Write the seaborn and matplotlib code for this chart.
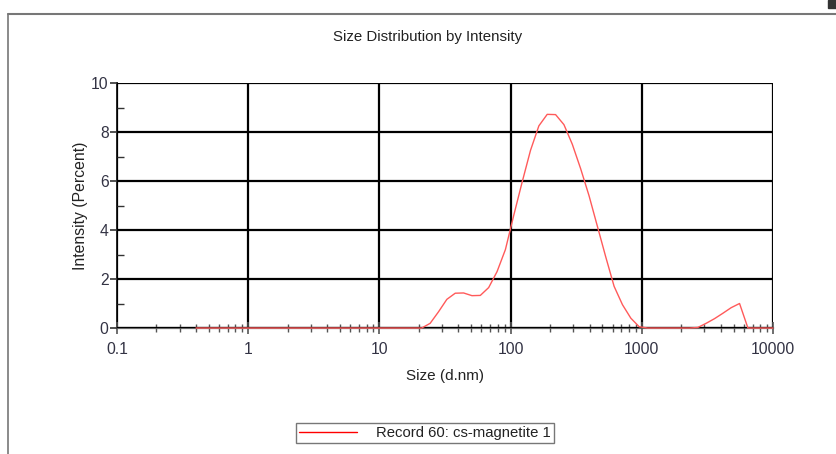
import numpy as np
import pandas as pd
import matplotlib
matplotlib.use("Agg")
import matplotlib.pyplot as plt
import seaborn as sns
from matplotlib.lines import Line2D
from matplotlib.patches import Rectangle
from matplotlib.ticker import LogLocator, FixedLocator, NullFormatter

# Size bins (d.nm)
sizes = [0.4, 0.4632, 0.5365, 0.6213, 0.7195, 0.8332, 0.9649, 1.117, 1.294, 1.499,
         1.736, 2.01, 2.328, 2.696, 3.122, 3.615, 4.187, 4.849, 5.615, 6.503,
         7.531, 8.721, 10.1, 11.7, 13.54, 15.69, 18.17, 21.04, 24.36, 28.21,
         32.67, 37.84, 43.82, 50.75, 58.77, 68.06, 78.82, 91.28, 105.7, 122.4,
         141.8, 164.2, 190.1, 220.2, 255.0, 295.3, 342.0, 396.1, 458.7, 531.2,
         615.1, 712.4, 825.0, 955.4, 1106, 1281, 1484, 1718, 1990, 2305,
         2669, 3091, 3580, 4145, 4801, 5560, 6439, 7456, 8635, 10000]
# Intensity (%)
intensity = [0, 0, 0, 0, 0, 0, 0, 0, 0, 0,
             0, 0, 0, 0, 0, 0, 0, 0, 0, 0,
             0, 0, 0, 0, 0, 0, 0, 0, 0.19, 0.66,
             1.17, 1.42, 1.43, 1.32, 1.33, 1.65, 2.3, 3.2, 4.6, 5.95,
             7.25, 8.25, 8.72, 8.71, 8.3, 7.5, 6.5, 5.4, 4.15, 2.9,
             1.7, 0.95, 0.4, 0.05, 0, 0, 0, 0, 0, 0,
             0.02, 0.19, 0.38, 0.6, 0.83, 1.0, 0, 0, 0, 0]

title = "Size Distribution by Intensity"
xlabel = "Size (d.nm)"
ylabel = "Intensity (Percent)"
series_name = "Record 60: cs-magnetite 1"
xticks = [0.1, 1, 10, 100, 1000, 10000]
xticklabels = ["0.1", "1", "10", "100", "1000", "10000"]
yticks = [0, 2, 4, 6, 8, 10]

sns.set_theme(style="white")
plt.rcParams['font.family'] = ['Liberation Sans', 'DejaVu Sans']

fig = plt.figure(figsize=(8.36, 4.54), dpi=100)
ax = fig.add_axes([117/836, 1 - 328/454, (773 - 117)/836, (328 - 83)/454])

df = pd.DataFrame({"size": sizes, "intensity": intensity})
sns.lineplot(data=df, x="size", y="intensity", ax=ax, color="#ff5a5a",
             linewidth=1.0, legend=False, zorder=5, clip_on=False)

ax.set_xscale("log")
ax.set_xlim(0.1, 10000)
ax.set_ylim(0, 10)

tick_color = "#333344"
ax.set_xticks(xticks)
ax.set_xticklabels(xticklabels)
ax.xaxis.set_minor_locator(LogLocator(base=10, subs=np.arange(2, 10)))
ax.xaxis.set_minor_formatter(NullFormatter())
ax.set_yticks(yticks)
ax.yaxis.set_minor_locator(FixedLocator([1, 3, 5, 7, 9]))

ax.tick_params(axis="x", which="major", direction="inout", length=8, width=1.2,
               color="#555555", labelsize=11.3, labelcolor=tick_color, pad=6, bottom=True)
ax.tick_params(axis="x", which="minor", direction="inout", length=6, width=1.0,
               color="#555555", bottom=True)
ax.tick_params(axis="y", which="major", direction="out", length=5, width=1.2,
               color="#333333", labelsize=11.3, labelcolor=tick_color, pad=1, left=True)
ax.tick_params(axis="y", which="minor", direction="in", length=5, width=1.0,
               color="#333333", left=True)

ax.grid(True, which="major", color="black", linewidth=1.6)
for s in ["top", "right"]:
    ax.spines[s].set_visible(False)
ax.spines["left"].set_color("#222222")
ax.spines["left"].set_linewidth(1.4)
ax.spines["bottom"].set_color("#666666")
ax.spines["bottom"].set_linewidth(1.6)
ax.set_axisbelow(False)

ax.set_xlabel(xlabel, fontsize=11, color="#222222", labelpad=9)
ax.set_ylabel(ylabel, fontsize=11.3, color="#222222", labelpad=2.5)
fig.text(428/836, 1 - 37/454, title, ha="center", va="center", fontsize=10.8, color="#222222")

# legend box
handle = Line2D([], [], color="red", linewidth=1.0)
leg = fig.legend([handle], [series_name], loc="center", bbox_to_anchor=(425/836, 1 - 433/454),
                 frameon=True, fancybox=False, fontsize=10.7, handlelength=3.9,
                 handletextpad=1.25, borderpad=0.2, borderaxespad=0, edgecolor="#555555")
leg.get_frame().set_linewidth(1.0)
for t in leg.get_texts():
    t.set_color("#222222")

# outer frame lines
fig.add_artist(Line2D([8/836, 1], [1 - 14/454, 1 - 14/454], color="#777777", linewidth=1.5,
                      transform=fig.transFigure))
fig.add_artist(Line2D([8/836, 8/836], [0, 1 - 14/454], color="#777777", linewidth=1.2,
                      transform=fig.transFigure))
fig.add_artist(Rectangle((828/836, 1 - 8/454), 8/836, 8/454, color="#333333",
                         transform=fig.transFigure))

fig.savefig("out.png", dpi=100)
